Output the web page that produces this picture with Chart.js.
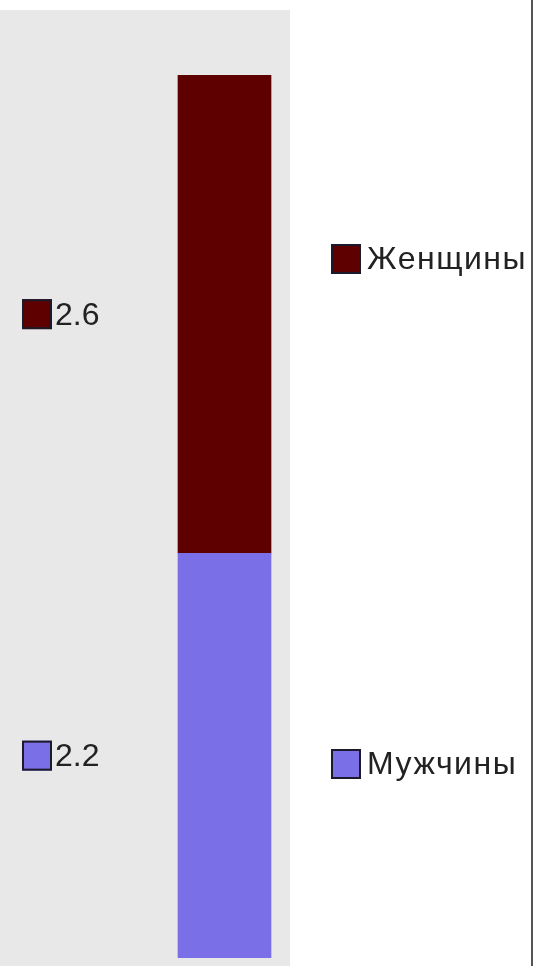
<!DOCTYPE html>
<html>
<head>
<meta charset="utf-8">
<script src="https://cdn.jsdelivr.net/npm/chart.js@4.4.0/dist/chart.umd.min.js"></script>
<style>
  html, body { margin: 0; padding: 0; background: #fff; }
  #wrap { width: 538px; height: 966px; position: relative; }
</style>
</head>
<body>
<div id="wrap"><canvas id="chart" width="538" height="966"></canvas></div>
<script>
const categories = [''];
const seriesNames = ['Мужчины', 'Женщины'];
const menValues = [2.2];
const womenValues = [2.6];
const seriesColors = ['#7b6fe8', '#5e0000'];

const FONT = '32px "Liberation Sans", Arial, sans-serif';

// gray plot background, right-hand frame line
const backdrop = {
  id: 'backdrop',
  beforeDraw(chart) {
    const ctx = chart.ctx;
    ctx.save();
    ctx.fillStyle = '#e8e8e8';
    ctx.fillRect(0, 10, 290, 956);
    ctx.fillStyle = '#555';
    ctx.fillRect(531, 0, 2, 966);
    ctx.restore();
  }
};

function swatch(ctx, x, y, color) {
  ctx.fillStyle = color;
  ctx.fillRect(x, y, 30, 30);
  ctx.strokeStyle = '#1c1a2a';
  ctx.lineWidth = 2;
  ctx.strokeRect(x + 1, y + 1, 28, 28);
}

// value labels at left, legend at right
const labels = {
  id: 'labels',
  afterDraw(chart) {
    const ctx = chart.ctx;
    ctx.save();
    ctx.font = FONT;
    ctx.textBaseline = 'middle';
    ctx.fillStyle = '#222';
    chart.data.datasets.forEach((ds, i) => {
      const bar = chart.getDatasetMeta(i).data[0];
      const cy = (bar.y + bar.base) / 2;
      swatch(ctx, 22, cy - 15, ds.backgroundColor);
      ctx.fillStyle = '#222';
      ctx.fillText(ds.data[0].toFixed(1), 55, cy + 2);
    });
    const legendY = { 'Женщины': 259, 'Мужчины': 764 };
    ctx.letterSpacing = '1.5px';
    chart.data.datasets.forEach(ds => {
      const cy = legendY[ds.label];
      swatch(ctx, 331, cy - 15, ds.backgroundColor);
      ctx.fillStyle = '#222';
      ctx.fillText(ds.label, 367, cy + 1);
    });
    ctx.restore();
  }
};

new Chart(document.getElementById('chart'), {
  type: 'bar',
  data: {
    labels: categories,
    datasets: [
      { label: seriesNames[0], data: menValues, backgroundColor: seriesColors[0] },
      { label: seriesNames[1], data: womenValues, backgroundColor: seriesColors[1] }
    ]
  },
  options: {
    responsive: false,
    animation: false,
    events: [],
    layout: { padding: { left: 159, right: 248, top: 75, bottom: 8 } },
    datasets: { bar: { barThickness: 93 } },
    plugins: { legend: { display: false }, tooltip: { enabled: false } },
    scales: {
      x: { stacked: true, display: false },
      y: { stacked: true, display: false, min: 0, max: 4.8 }
    }
  },
  plugins: [backdrop, labels]
});
</script>
</body>
</html>
